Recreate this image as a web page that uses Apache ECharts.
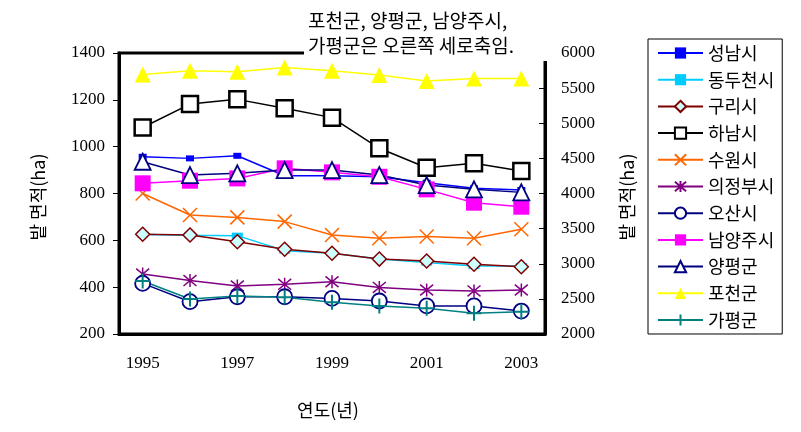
<!DOCTYPE html>
<html><head><meta charset="utf-8">
<script src="https://cdn.jsdelivr.net/npm/echarts@6/dist/echarts.min.js"></script>
<style>html,body{margin:0;padding:0;background:#fff}#c{width:801px;height:432px}</style>
</head><body><div id="c"></div>
<script>
const years = ['1995','1996','1997','1998','1999','2000','2001','2002','2003'];
const seongnam = [957, 950, 961, 876, 876, 872, 846, 822, 815];
const dongducheon = [625, 622, 620, 556, 545, 520, 505, 490, 490];
const guri = [626, 623, 594, 562, 545, 520, 512, 498, 487];
const hanam = [1082, 1182, 1202, 1164, 1124, 993, 910, 929, 896];
const suwon = [800, 708, 698, 680, 623, 609, 616, 609, 647];
const uijeongbu = [456, 428, 405, 412, 423, 399, 388, 384, 388];
const osan = [416, 338, 359, 359, 352, 341, 320, 320, 298];
const namyangju = [4145, 4182, 4215, 4358, 4301, 4238, 4059, 3869, 3812];
const yangpyeong = [4452, 4262, 4287, 4334, 4334, 4262, 4120, 4059, 4016];
const pocheon = [5695, 5747, 5733, 5795, 5747, 5686, 5600, 5638, 5638];
const gapyeong = [2754, 2498, 2541, 2522, 2451, 2398, 2366, 2294, 2317];
const leftTicks = [200, 1400, 200];
const rightTicks = [2000, 6000, 500];

const CJK = '"Noto Sans CJK KR", sans-serif';
const SERIF = '"Liberation Serif", "DejaVu Serif", serif';
const X_PATH = 'path://M0,0L10,10M10,0L0,10';
const STAR_PATH = 'path://M0,0L10,10M10,0L0,10M5,-1L5,11';
const PLUS_PATH = 'path://M5,0L5,10M0,5L10,5';

function s(name, data, axis, color, symbol, size, fill, border, bw) {
  return {
    name, type: 'line', data, yAxisIndex: axis,
    symbol, symbolSize: size,
    lineStyle: { color, width: 1.5 },
    itemStyle: { color: fill, borderColor: border, borderWidth: bw },
    emphasis: { disabled: true }
  };
}

const series = [
  s('성남시', seongnam, 0, '#0000FF', 'rect', [8, 6], '#0000FF', '#0000FF', 0),
  s('동두천시', dongducheon, 0, '#00CCFF', 'rect', [11, 6], '#00CCFF', '#00CCFF', 0),
  s('구리시', guri, 0, '#800000', 'diamond', 14, '#CCFFFF', '#800000', 1.5),
  s('하남시', hanam, 0, '#000000', 'rect', 16, '#FFFFFF', '#000000', 2.5),
  s('수원시', suwon, 0, '#FF6600', X_PATH, 14, '#FF6600', '#FF6600', 1.5),
  s('의정부시', uijeongbu, 0, '#800080', STAR_PATH, 13, '#800080', '#800080', 1.5),
  s('오산시', osan, 0, '#000080', 'circle', 15, '#FFFFFF', '#000080', 1.8),
  s('남양주시', namyangju, 1, '#FF00FF', 'rect', 16, '#FF00FF', '#FF00FF', 0),
  s('양평군', yangpyeong, 1, '#000080', 'triangle', 16, '#FFFFFF', '#000080', 1.8),
  s('포천군', pocheon, 1, '#FFFF00', 'triangle', 16, '#FFFF00', '#FFFF00', 0),
  s('가평군', gapyeong, 1, '#008080', PLUS_PATH, 15, '#008080', '#008080', 2)
];

const plain = v => String(v);
const chart = echarts.init(document.getElementById('c'), null, { renderer: 'canvas' });
chart.setOption({
  animation: false,
  backgroundColor: '#fff',
  grid: { left: 119, right: 256, top: 53, bottom: 98, show: true, borderColor: '#000', borderWidth: 3, backgroundColor: 'transparent' },
  xAxis: {
    type: 'category', data: years, boundaryGap: true,
    axisLine: { lineStyle: { color: '#000', width: 3 } },
    axisTick: { inside: true, length: 6, interval: 0, lineStyle: { color: '#000', width: 1 } },
    axisLabel: { interval: 1, color: '#000', fontFamily: SERIF, fontSize: 17, margin: 21 },
    splitLine: { show: false }
  },
  yAxis: [
    {
      type: 'value', min: leftTicks[0], max: leftTicks[1], interval: leftTicks[2],
      axisLine: { show: true, lineStyle: { color: '#000', width: 3 } },
      axisTick: { show: true, length: 6, lineStyle: { color: '#000', width: 1 } },
      axisLabel: { color: '#000', fontFamily: SERIF, fontSize: 17, margin: 14, formatter: plain },
      splitLine: { show: false }
    },
    {
      type: 'value', min: rightTicks[0], max: rightTicks[1], interval: rightTicks[2], position: 'right',
      axisLine: { show: true, lineStyle: { color: '#000', width: 3 } },
      axisTick: { show: true, inside: true, length: 6, lineStyle: { color: '#000', width: 1 } },
      axisLabel: { color: '#000', fontFamily: SERIF, fontSize: 17, margin: 16, formatter: plain },
      splitLine: { show: false }
    }
  ],
  legend: {
    orient: 'vertical', left: 648, top: 39, width: 120,
    borderColor: '#000', borderWidth: 1, padding: [5, 8, 5, 9],
    itemWidth: 45, itemHeight: 14, itemGap: 8.7,
    textStyle: { fontFamily: CJK, fontSize: 18, color: '#000' },
    data: series.map(x => x.name)
  },
  graphic: [
    { type: 'rect', shape: { x: 304, y: 0, width: 250, height: 61 }, style: { fill: '#fff' }, z: 100 },
    { type: 'text', left: 308, top: 11, z: 101, style: { text: '포천군, 양평군, 남양주시,', font: '19px ' + CJK, fill: '#000' } },
    { type: 'text', left: 308, top: 36, z: 101, style: { text: '가평군은 오른쪽 세로축임.', font: '19px ' + CJK, fill: '#000' } },
    { type: 'text', x: 38, y: 197, rotation: Math.PI / 2, z: 101, style: { text: '밭 면적(ha)', font: '18px ' + CJK, fill: '#000', align: 'center', verticalAlign: 'middle' } },
    { type: 'text', x: 627, y: 197, rotation: Math.PI / 2, z: 101, style: { text: '밭 면적(ha)', font: '18px ' + CJK, fill: '#000', align: 'center', verticalAlign: 'middle' } },
    { type: 'text', x: 328, y: 410, z: 101, style: { text: '연도(년)', font: '18px ' + CJK, fill: '#000', align: 'center', verticalAlign: 'middle' } }
  ],
  series
});
</script></body></html>
